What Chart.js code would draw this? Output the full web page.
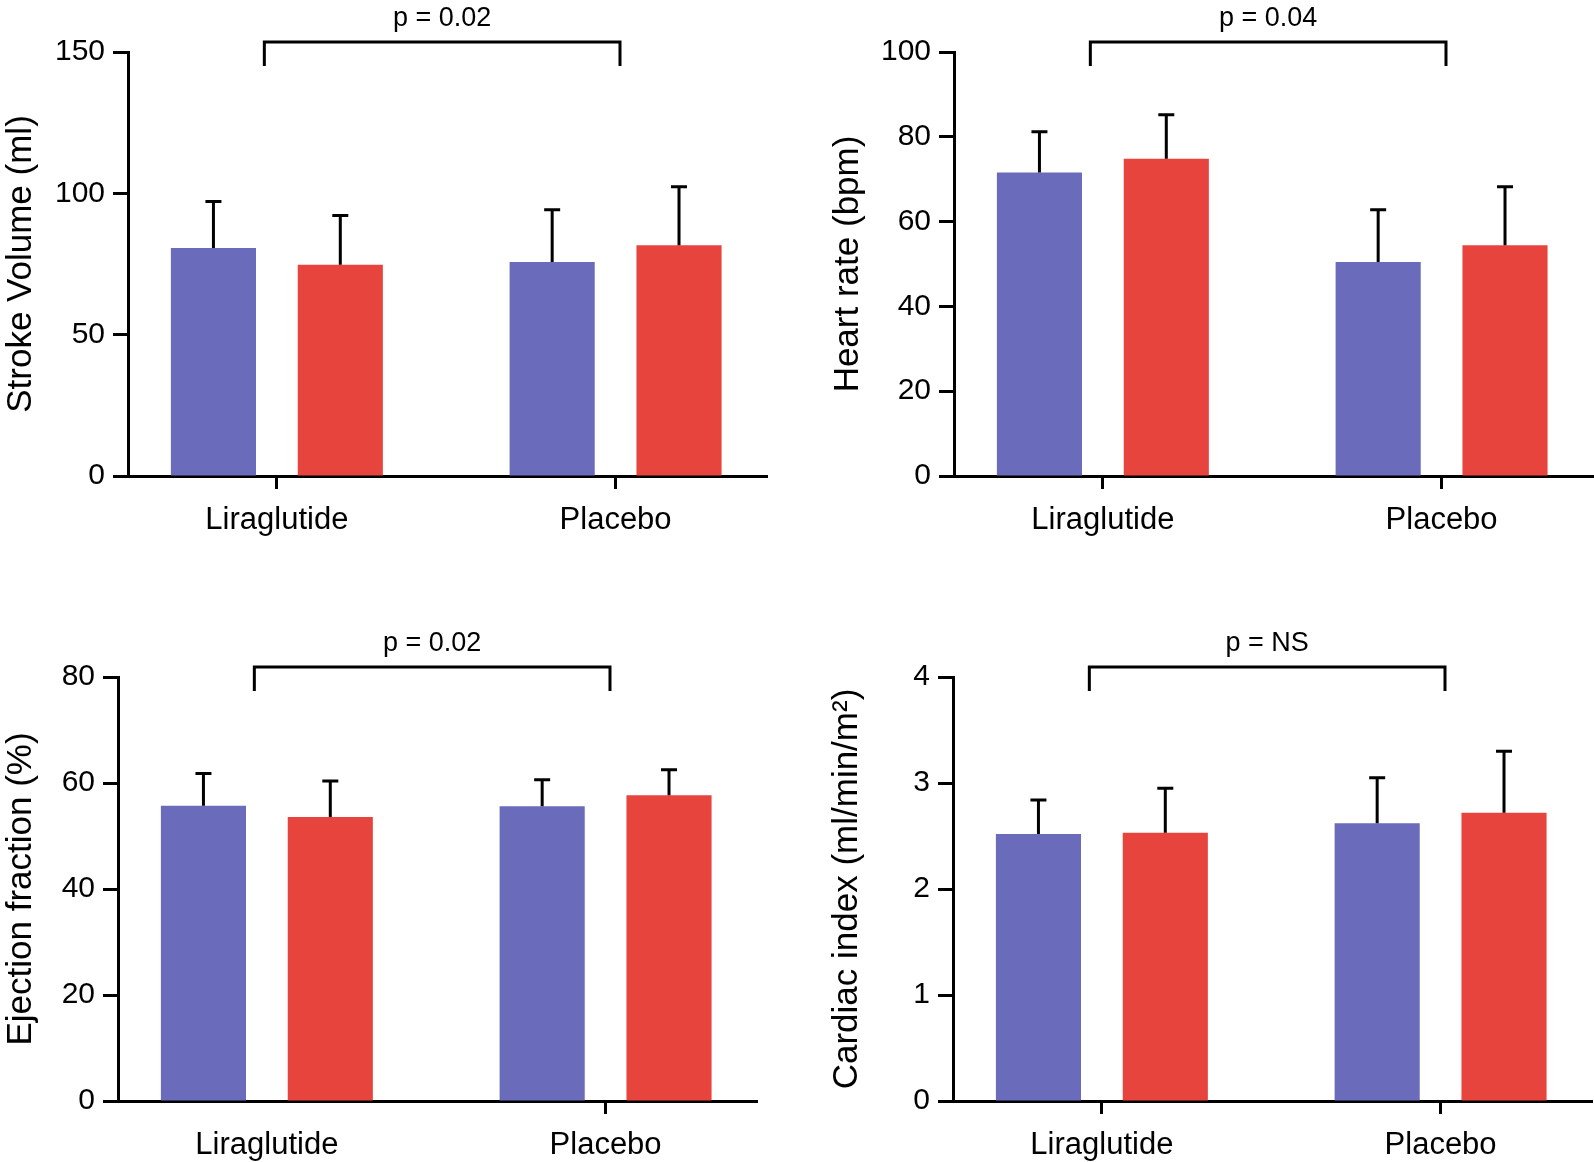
<!DOCTYPE html>
<html>
<head>
<meta charset="utf-8">
<script src="https://cdn.jsdelivr.net/npm/chart.js@4.4.1/dist/chart.umd.min.js"></script>
<style>
    html, body { margin: 0; padding: 0; background: #fff; overflow: hidden; }
    body { width: 1594px; height: 1162px; position: relative; }
    canvas { position: absolute; }
</style>
</head>
<body>
<canvas id="canvasVolume" width="797" height="625" style="left:0;top:0"></canvas>
<canvas id="canvasFrequenza" width="797" height="625" style="left:797px;top:0"></canvas>
<canvas id="canvasFrazione" width="797" height="537" style="left:0;top:625px"></canvas>
<canvas id="canvasIndice" width="797" height="537" style="left:797px;top:625px"></canvas>

<script>
"use strict";

// ============================================================
// DATI (media e deviazione standard)
// ============================================================
const categorie = ["Liraglutide", "Placebo"];
const posizioniCategorie = [1, 2];

// Stroke Volume (ml)
const volumeBlu     = [80.7, 75.7];
const volumeBluSd   = [16.4, 18.5];
const volumeRosso   = [74.7, 81.6];
const volumeRossoSd = [17.5, 20.7];
const tickVolume    = [0, 50, 100, 150];

// Heart rate (bpm)
const frequenzaBlu     = [71.6, 50.5];
const frequenzaBluSd   = [9.6, 12.3];
const frequenzaRosso   = [74.8, 54.4];
const frequenzaRossoSd = [10.4, 13.8];
const tickFrequenza    = [0, 20, 40, 60, 80, 100];

// Ejection fraction (%)
const frazioneBlu     = [55.7, 55.6];
const frazioneBluSd   = [6.1, 5.0];
const frazioneRosso   = [53.6, 57.7];
const frazioneRossoSd = [6.8, 4.8];
const tickFrazione    = [0, 20, 40, 60, 80];

// Cardiac index (ml/min/m²)
const indiceBlu     = [2.52, 2.62];
const indiceBluSd   = [0.32, 0.43];
const indiceRosso   = [2.53, 2.72];
const indiceRossoSd = [0.42, 0.58];
const tickIndice    = [0, 1, 2, 3, 4];

const COLORE_BLU   = "#6a6bba";
const COLORE_ROSSO = "#e7443e";
const FONT = "'Liberation Sans', Arial, Helvetica, sans-serif";

// ============================================================
// PLUGIN — barre d'errore (solo verso l'alto)
// ============================================================
const pluginBarreErrore = {
    id: "barreErrore",
    afterDatasetsDraw(chart) {
        let ctx = chart.ctx;
        let scalaY = chart.scales.y;
        ctx.save();
        ctx.strokeStyle = "#000";
        ctx.lineWidth = 3;
        chart.data.datasets.forEach(function (ds, i) {
            let meta = chart.getDatasetMeta(i);
            meta.data.forEach(function (barra, j) {
                let yCima = scalaY.getPixelForValue(ds.data[j].y + ds.sd[j]);
                ctx.beginPath();
                ctx.moveTo(barra.x, barra.y);
                ctx.lineTo(barra.x, yCima);
                ctx.moveTo(barra.x - 8, yCima);
                ctx.lineTo(barra.x + 8, yCima);
                ctx.stroke();
            });
        });
        ctx.restore();
    }
};

// ============================================================
// PLUGIN — parentesi col valore di p sopra il grafico
// ============================================================
const pluginParentesi = {
    id: "parentesi",
    afterDraw(chart, args, opts) {
        let ctx = chart.ctx;
        let area = chart.chartArea;
        let x1 = chart.scales.x.getPixelForValue(opts.da);
        let x2 = chart.scales.x.getPixelForValue(opts.a);
        let yAlto = area.top - 10;
        let yGambe = area.top + 14;
        ctx.save();
        ctx.strokeStyle = "#000";
        ctx.lineWidth = 3;
        ctx.beginPath();
        ctx.moveTo(x1, yGambe);
        ctx.lineTo(x1, yAlto);
        ctx.lineTo(x2, yAlto);
        ctx.lineTo(x2, yGambe);
        ctx.stroke();
        ctx.fillStyle = "#000";
        ctx.font = "27px " + FONT;
        ctx.textAlign = "center";
        ctx.textBaseline = "middle";
        ctx.fillText(opts.testo, (x1 + x2) / 2, area.top - 33);
        ctx.restore();
    }
};

// ============================================================
// creaGrafico() — un pannello a barre con due serie
// ============================================================
function creaGrafico(idCanvas, p) {
    let canvas = document.getElementById(idCanvas);
    let altezza = canvas.height;
    let larghezza = canvas.width;

    let serie = function (valori, sd, colore) {
        return {
            data: posizioniCategorie.map((x, i) => ({ x: x, y: valori[i] })),
            sd: sd,
            backgroundColor: colore,
            borderWidth: 0,
            categoryPercentage: 0.749,
            barPercentage: 0.671
        };
    };

    return new Chart(canvas, {
        type: "bar",
        data: {
            datasets: [
                serie(p.blu, p.bluSd, COLORE_BLU),
                serie(p.rosso, p.rossoSd, COLORE_ROSSO)
            ]
        },
        options: {
            responsive: false,
            animation: false,
            layout: {
                padding: { top: 52, left: 0, bottom: 0, right: larghezza - p.sinistra - 639 }
            },
            plugins: {
                legend: { display: false },
                tooltip: { enabled: false },
                parentesi: { testo: p.testoP, da: 0.963, a: 2.013 }
            },
            scales: {
                x: {
                    type: "linear",
                    offset: false,
                    bounds: "data",
                    min: 0.5605,
                    max: 2.447,
                    afterBuildTicks: s => { s.ticks = posizioniCategorie.map(v => ({ value: v })); },
                    afterFit: s => { s.height = altezza - 476; },
                    grid: {
                        offset: false,
                        drawOnChartArea: false,
                        tickLength: 13,
                        tickWidth: 3,
                        tickColor: c => (p.nascondiPrimoTick && c.index === 0) ? "rgba(0,0,0,0)" : "#000"
                    },
                    border: { display: true, width: 3, color: "#000" },
                    ticks: {
                        callback: (v, i) => categorie[i],
                        autoSkip: false,
                        maxRotation: 0,
                        padding: 13,
                        color: "#000",
                        font: { family: FONT, size: 31 }
                    }
                },
                y: {
                    min: p.tick[0],
                    max: p.tick[p.tick.length - 1],
                    afterBuildTicks: s => { s.ticks = p.tick.map(v => ({ value: v })); },
                    afterFit: s => { s.width = p.sinistra; },
                    grid: { drawOnChartArea: false, tickLength: 15, tickWidth: 3, tickColor: "#000" },
                    border: { display: true, width: 3, color: "#000" },
                    ticks: { padding: 8, color: "#000", font: { family: FONT, size: 30 } },
                    title: {
                        display: true,
                        text: p.titolo,
                        color: "#000",
                        font: { family: FONT, size: 35 },
                        padding: { top: p.paddingTitolo, bottom: 0 }
                    }
                }
            }
        },
        plugins: [pluginBarreErrore, pluginParentesi]
    });
}

// ============================================================
// AVVIO
// ============================================================
creaGrafico("canvasVolume", {
    blu: volumeBlu, bluSd: volumeBluSd, rosso: volumeRosso, rossoSd: volumeRossoSd,
    tick: tickVolume, titolo: "Stroke Volume (ml)", testoP: "p = 0.02",
    sinistra: 128, paddingTitolo: 0
});
creaGrafico("canvasFrequenza", {
    blu: frequenzaBlu, bluSd: frequenzaBluSd, rosso: frequenzaRosso, rossoSd: frequenzaRossoSd,
    tick: tickFrequenza, titolo: "Heart rate (bpm)", testoP: "p = 0.04",
    sinistra: 157, paddingTitolo: 30
});
creaGrafico("canvasFrazione", {
    blu: frazioneBlu, bluSd: frazioneBluSd, rosso: frazioneRosso, rossoSd: frazioneRossoSd,
    tick: tickFrazione, titolo: "Ejection fraction (%)", testoP: "p = 0.02",
    sinistra: 118, paddingTitolo: 0, nascondiPrimoTick: true
});
creaGrafico("canvasIndice", {
    blu: indiceBlu, bluSd: indiceBluSd, rosso: indiceRosso, rossoSd: indiceRossoSd,
    tick: tickIndice, titolo: "Cardiac index (ml/min/m²)", testoP: "p = NS",
    sinistra: 156, paddingTitolo: 29
});
</script>
</body>
</html>
